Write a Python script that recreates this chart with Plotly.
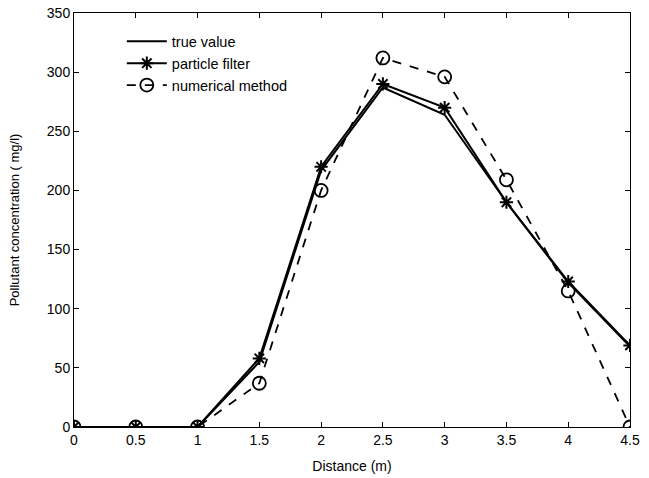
import plotly.graph_objects as go

distance = [0, 0.5, 1, 1.5, 2, 2.5, 3, 3.5, 4, 4.5]
true_value = [0, 0, 0, 55, 217, 287, 264, 190, 122, 68]
particle_filter = [0, 0, 0, 58, 220, 290, 270, 190, 123, 69]
numerical_method = [0, 0, 0, 37, 200, 312, 296, 209, 115, 0]

x_ticks = [0, 0.5, 1, 1.5, 2, 2.5, 3, 3.5, 4, 4.5]
x_tick_labels = ["0", "0.5", "1", "1.5", "2", "2.5", "3", "3.5", "4", "4.5"]
y_ticks = [0, 50, 100, 150, 200, 250, 300, 350]

fig = go.Figure()
fig.add_trace(go.Scatter(x=distance, y=true_value, mode="lines", name="true value",
                         line=dict(color="black", width=2)))
fig.add_trace(go.Scatter(x=distance, y=particle_filter, mode="lines+markers", name="particle filter",
                         line=dict(color="black", width=2),
                         marker=dict(symbol="asterisk-open", size=11, color="black",
                                     line=dict(color="black", width=2))))
fig.add_trace(go.Scatter(x=distance, y=numerical_method, mode="lines+markers", name="numerical method",
                         line=dict(color="black", width=1.8, dash="dash"),
                         marker=dict(symbol="circle-open", size=13, color="black",
                                     line=dict(color="black", width=1.8))))

axis_common = dict(showgrid=False, zeroline=False, showline=True, linecolor="black", linewidth=1,
                   mirror="ticks", ticks="inside", ticklen=5, tickcolor="black", automargin=False,
                   tickfont=dict(family="Liberation Sans, Arial", size=14, color="black"))

fig.update_layout(
    width=649, height=478,
    margin=dict(l=74, r=19, t=13, b=51),
    paper_bgcolor="white", plot_bgcolor="white",
    font=dict(family="Liberation Sans, Arial", color="black"),
    showlegend=True,
    legend=dict(x=0.086, y=0.97, xanchor="left", yanchor="top", bgcolor="rgba(0,0,0,0)",
                font=dict(size=14.5), tracegroupgap=0, itemwidth=40),
    xaxis=dict(range=[0, 4.5], tickvals=x_ticks, ticktext=x_tick_labels,
               title=dict(text="Distance (m)", font=dict(size=14), standoff=14), **axis_common),
    yaxis=dict(range=[0, 350], tickvals=y_ticks,
               title=dict(text="Pollutant concentration ( mg/l)", font=dict(size=13), standoff=24),
               **axis_common),
)

fig.write_html("out.html")
